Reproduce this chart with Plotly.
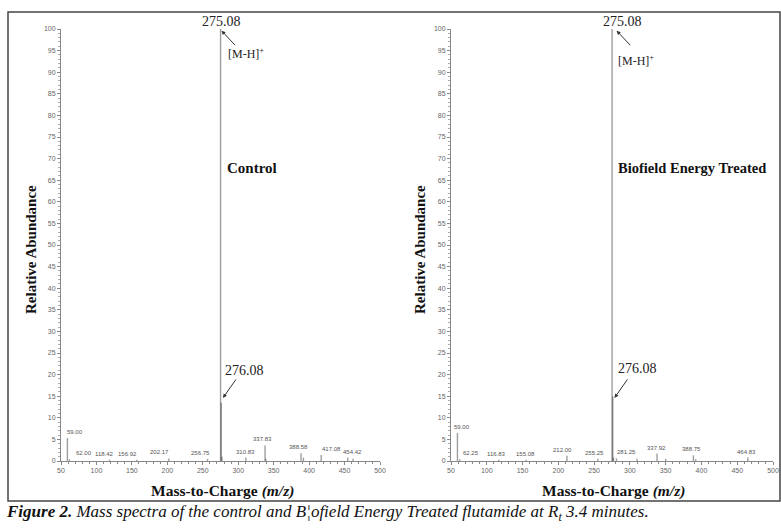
import plotly.graph_objects as go

# ---------------- data ----------------
control_mz = [59.00, 62.00, 118.42, 156.92, 202.17, 256.75, 275.08, 276.08, 277.08, 310.83,
              337.83, 338.83, 388.58, 392.00, 417.08, 454.42, 462.00]
control_int = [5.3, 0.4, 0.3, 0.3, 0.6, 0.5, 100.0, 13.5, 1.0, 0.8,
               3.6, 0.5, 1.8, 0.8, 1.4, 0.8, 0.5]
control_labels = ["59.00", "62.00", "118.42", "156.92", "202.17", "256.75", "", "", "", "310.83",
                  "337.83", "", "388.58", "", "417.08", "454.42", ""]

treated_mz = [59.00, 62.25, 116.83, 155.08, 212.00, 255.25, 275.08, 276.08, 277.08, 281.25,
              310.00, 337.92, 350.00, 388.75, 392.00, 464.83]
treated_int = [6.5, 0.4, 0.3, 0.3, 1.2, 0.5, 100.0, 15.0, 0.8, 0.6,
               0.5, 1.7, 0.5, 1.3, 0.4, 0.8]
treated_labels = ["59.00", "62.25", "116.83", "155.08", "212.00", "255.25", "", "", "", "281.25",
                  "", "337.92", "", "388.75", "", "464.83"]

x_ticks = [50, 100, 150, 200, 250, 300, 350, 400, 450, 500]
y_ticks = list(range(0, 101, 5))

# label placement tweaks (pixels), styling only
control_label_shift = {"59.00": 8, "62.00": 14, "118.42": -5, "156.92": -9, "202.17": -9,
                       "256.75": -7, "337.83": -3, "388.58": -3, "417.08": 10, "454.42": 5}
treated_label_shift = {"59.00": 5, "62.25": 11, "116.83": -2, "155.08": -1, "212.00": -4,
                       "255.25": -3, "281.25": 10, "337.92": -1, "388.75": -2, "464.83": -1}

W, H = 781, 530
def px(x):
    return x / W
def py(y):
    return 1 - y / H

fig = go.Figure()

def stems(mz, inten):
    xs, ys = [], []
    for m, v in zip(mz, inten):
        xs += [m, m, None]
        ys += [0, v, None]
    return xs, ys

for i, (mz, inten) in enumerate([(control_mz, control_int), (treated_mz, treated_int)]):
    xs, ys = stems(mz, inten)
    suffix = "" if i == 0 else "2"
    fig.add_trace(go.Scatter(x=xs, y=ys, mode="lines",
                             line=dict(color="rgba(40,40,40,0.45)", width=1.4),
                             xaxis="x" + suffix, yaxis="y" + suffix,
                             showlegend=False, hoverinfo="skip", cliponaxis=False))

tickfont = dict(family="Arial", size=7, color="#666")
axis_common = dict(showline=True, linecolor="#888", linewidth=1, ticks="outside",
                   ticklen=3, tickcolor="#888", showgrid=False, zeroline=False,
                   tickfont=tickfont, automargin=False)

fig.update_layout(
    width=W, height=H, margin=dict(l=0, r=0, t=0, b=0, autoexpand=False),
    paper_bgcolor="white", plot_bgcolor="white", showlegend=False,
    xaxis=dict(domain=[px(61), px(380)], range=[50, 500], tickvals=x_ticks,
               minor=dict(dtick=10, ticklen=2, ticks="outside", tickcolor="#888"),
               anchor="y", **axis_common),
    yaxis=dict(domain=[py(461), py(29)], range=[0, 100], tickvals=y_ticks,
               minor=dict(dtick=1, ticklen=2, ticks="outside", tickcolor="#aaa"),
               anchor="x", **axis_common),
    xaxis2=dict(domain=[px(451), px(773)], range=[50, 500], tickvals=x_ticks,
                minor=dict(dtick=10, ticklen=2, ticks="outside", tickcolor="#888"),
                anchor="y2", **axis_common),
    yaxis2=dict(domain=[py(461), py(29)], range=[0, 100], tickvals=y_ticks,
                minor=dict(dtick=1, ticklen=2, ticks="outside", tickcolor="#aaa"),
                anchor="x2", **axis_common),
)

ann = []
serif = "Liberation Serif, Times New Roman, serif"

# peak labels
for suffix, mz, inten, labs, shifts in [("", control_mz, control_int, control_labels, control_label_shift),
                                         ("2", treated_mz, treated_int, treated_labels, treated_label_shift)]:
    for m, v, t in zip(mz, inten, labs):
        if t:
            ann.append(dict(x=m, y=v, xref="x" + suffix, yref="y" + suffix, text=t,
                            showarrow=False, yanchor="bottom", xanchor="center", yshift=1,
                            xshift=shifts.get(t, 0),
                            font=dict(family="Arial", size=6, color="#555")))

# main peak annotations
for suffix, top_x, mh_x, mh_y, lab_x, name, name_x, name_size, a276_x, a276_y in [
        ("", 276.0, 282.5, 94.4, 281.0, "Control", 281.3, 15, 309.5, 21.0),
        ("2", 289.0, 280.6, 92.8, 286.0, "Biofield Energy Treated", 280.5, 14.5, 311.0, 21.5)]:
    xr, yr = "x" + suffix, "y" + suffix
    ann.append(dict(x=top_x, y=100, xref=xr, yref=yr, text="275.08", showarrow=False,
                    yanchor="bottom", xanchor="center", yshift=-2,
                    font=dict(family=serif, size=14, color="#222")))
    ann.append(dict(x=lab_x - 4.5, y=99.6, xref=xr, yref=yr, text="", showarrow=True,
                    arrowhead=2, arrowsize=0.8, arrowwidth=1, arrowcolor="#333",
                    ax=15, ay=16))
    ann.append(dict(x=mh_x, y=mh_y, xref=xr, yref=yr, text="[M-H]<sup>+</sup>",
                    showarrow=False, xanchor="left", yanchor="middle",
                    font=dict(family=serif, size=12, color="#222")))
    ann.append(dict(x=name_x, y=67.8, xref=xr, yref=yr, text="<b>" + name + "</b>",
                    showarrow=False, xanchor="left", yanchor="middle",
                    font=dict(family=serif, size=name_size, color="#111")))
    ann.append(dict(x=a276_x, y=a276_y, xref=xr, yref=yr, text="276.08",
                    showarrow=False, xanchor="center", yanchor="middle",
                    font=dict(family=serif, size=14, color="#222")))
    ann.append(dict(x=278.5, y=14.6, xref=xr, yref=yr, text="", showarrow=True,
                    arrowhead=2, arrowsize=0.8, arrowwidth=1, arrowcolor="#333",
                    ax=14, ay=-20))

# axis titles
for cx in [222, 613]:
    ann.append(dict(x=px(cx), y=py(491), xref="paper", yref="paper",
                    text="<b>Mass-to-Charge <i>(m/z)</i></b>", showarrow=False,
                    xanchor="center", yanchor="middle",
                    font=dict(family=serif, size=15.5, color="#111")))
for cx in [31, 420]:
    ann.append(dict(x=px(cx), y=py(250), xref="paper", yref="paper",
                    text="<b>Relative Abundance</b>", showarrow=False, textangle=-90,
                    xanchor="center", yanchor="middle",
                    font=dict(family=serif, size=15, color="#111")))

# caption
ann.append(dict(x=px(4), y=py(513), xref="paper", yref="paper",
                text="<b><i>Figure 2.</i></b><i> Mass spectra of the control and B¦ofield Energy Treated flutamide at R<sub>t</sub> 3.4 minutes.</i>",
                showarrow=False, xanchor="left", yanchor="middle",
                font=dict(family=serif, size=17, color="#111")))

fig.update_layout(annotations=ann)

# border box
fig.add_shape(type="rect", xref="paper", yref="paper",
              x0=px(8), x1=px(780), y0=py(501), y1=py(12),
              line=dict(color="#444", width=1.5), fillcolor="rgba(0,0,0,0)")

fig.write_html("out.html", config={"displayModeBar": False},
               post_script="document.body.style.margin='0';document.body.style.overflow='hidden';")
